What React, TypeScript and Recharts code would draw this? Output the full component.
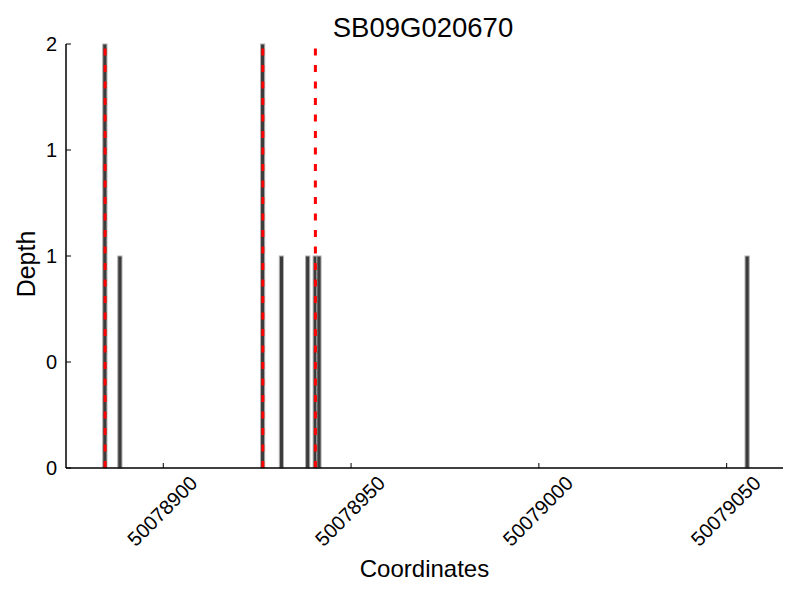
import React from "react";
import { ComposedChart, Bar, XAxis, YAxis, ReferenceLine, Label } from "recharts";

const TITLE = "SB09G020670";
const X_LABEL = "Coordinates";
const Y_LABEL = "Depth";

const positions = [50078884, 50078888, 50078926, 50078931, 50078938, 50078940, 50078941, 50079055];
const depths = [2, 1, 2, 1, 1, 1, 1, 1];
const markers = [50078884, 50078926, 50078940];
const xTicks = [50078900, 50078950, 50079000, 50079050];
const yTicks = [0, 0.5, 1, 1.5, 2];

const X_DOMAIN: [number, number] = [50078874.1, 50079065.0];
const FONT = "'Liberation Sans', Arial, Helvetica, sans-serif";

const data = positions.map((p, i) => ({ x: p + 0.5, depth: depths[i] }));

const BAR_W = 4.2;

const BarShape = (props: any) => {
  const { x, y, width, height } = props;
  if (height == null || height <= 0) return null;
  const cx = x + width / 2;
  return (
    <rect
      x={cx - BAR_W / 2}
      y={y}
      width={BAR_W}
      height={height}
      fill="#3c3c3c"
      stroke="#b0b0b0"
      strokeWidth={1}
    />
  );
};

const XTick = (props: any) => {
  const { x, y, payload } = props;
  const cx = x - 1;
  const cy = y + 43;
  return (
    <g>
      <line x1={x} y1={y} x2={x} y2={y - 5} stroke="#000" strokeWidth={1} />
      <text
        x={cx}
        y={cy}
        textAnchor="middle"
        dominantBaseline="central"
        transform={`rotate(-45 ${cx} ${cy})`}
        fontSize={20}
        fontFamily={FONT}
        fill="#000"
      >
        {payload.value}
      </text>
    </g>
  );
};

const YTick = (props: any) => {
  const { x, y, payload } = props;
  return (
    <g>
      <line x1={x} y1={y} x2={x + 5} y2={y} stroke="#000" strokeWidth={1} />
      <text
        x={x - 9}
        y={y}
        textAnchor="end"
        dominantBaseline="central"
        fontSize={20}
        fontFamily={FONT}
        fill="#000"
      >
        {Math.floor(payload.value)}
      </text>
    </g>
  );
};

export default function App() {
  return (
    <div style={{ position: "absolute", left: 0, top: 0, width: 800, height: 600, background: "#fff" }}>
      <svg width={800} height={50} style={{ position: "absolute", left: 0, top: 0 }}>
        <text x={423} y={37} textAnchor="middle" fontSize={27.5} fontFamily={FONT} fill="#000">
          {TITLE}
        </text>
      </svg>
      <ComposedChart
        width={800}
        height={600}
        data={data}
        margin={{ top: 44, right: 17, bottom: 0, left: 0 }}
        style={{ fontFamily: FONT }}
      >
        <XAxis
          dataKey="x"
          type="number"
          scale="linear"
          domain={X_DOMAIN}
          allowDataOverflow
          ticks={xTicks}
          interval={0}
          height={132}
          tickSize={0}
          tickMargin={0}
          tick={<XTick />}
          tickLine={false}
          axisLine={{ stroke: "#000", strokeWidth: 1.5 }}
        >
          <Label
            content={(p: any) => {
              const vb = p.viewBox;
              return (
                <text
                  x={vb.x + vb.width / 2}
                  y={vb.y + 109}
                  textAnchor="middle"
                  fontSize={24}
                  fontFamily={FONT}
                  fill="#000"
                >
                  {X_LABEL}
                </text>
              );
            }}
          />
        </XAxis>
        <YAxis
          type="number"
          domain={[0, 2]}
          ticks={yTicks}
          interval={0}
          width={66}
          tickSize={0}
          tickMargin={0}
          tick={<YTick />}
          tickLine={false}
          axisLine={{ stroke: "#000", strokeWidth: 1.5 }}
        >
          <Label
            content={(p: any) => {
              const vb = p.viewBox;
              const cx = 35;
              const cy = vb.y + vb.height / 2 + 8;
              return (
                <text
                  x={cx}
                  y={cy}
                  textAnchor="middle"
                  transform={`rotate(-90 ${cx} ${cy})`}
                  fontSize={25}
                  fontFamily={FONT}
                  fill="#000"
                >
                  {Y_LABEL}
                </text>
              );
            }}
          />
        </YAxis>
        <Bar
          dataKey="depth"
          barSize={4}
          fill="#3c3c3c"
          shape={<BarShape />}
          isAnimationActive={false}
        />
        {markers.map((m) => (
          <ReferenceLine
            key={m}
            x={m + 0.5}
            stroke="#ff0000"
            strokeWidth={3}
            strokeDasharray="7 9.5"
          />
        ))}
      </ComposedChart>
    </div>
  );
}
